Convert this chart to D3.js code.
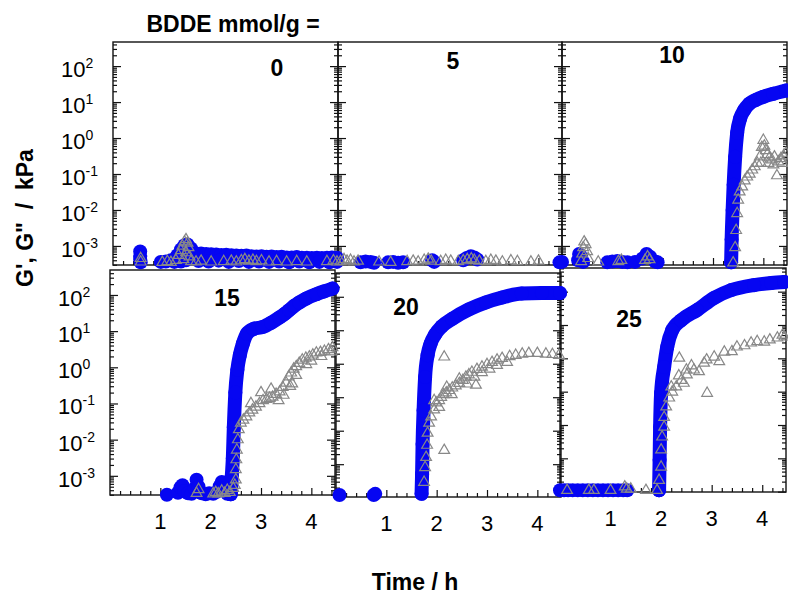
<!DOCTYPE html>
<html><head><meta charset="utf-8">
<script src="https://cdn.jsdelivr.net/npm/d3@7"></script>
<style>body{margin:0;background:#fff} svg{display:block} text{font-family:"Liberation Sans",Arial,sans-serif;fill:#000}</style>
</head><body><svg id="c" width="788" height="596"></svg>
<script>
// ---------------- DATA ----------------
const panelLabels = ["0","5","10","15","20","25"];
const xTickLabels = [1,2,3,4];
const yTickExps = [-3,-2,-1,0,1,2];

// [time h, modulus kPa]
const blueDots0 = [[0.54,7e-4],[0.54,5.2e-4],[0.54,4.2e-4],[0.55,3.5e-4],[0.95,3.6e-4],[1.05,3.7e-4],[1.15,4e-4],[1.22,3.6e-4],[1.28,5.5e-4],[1.35,8e-4],[1.42,1.05e-3],[1.48,1.1e-3],[1.55,8.5e-4],[1.6,6e-4],[1.45,4e-4],[1.35,3.7e-4],
 [1.65,6.2e-4],[1.75,6.2e-4],[1.85,6e-4],[1.95,5.9e-4],[2.05,5.8e-4],[2.15,5.6e-4],[2.25,5.7e-4],[2.35,5.5e-4],[2.45,5.4e-4],[2.55,5.3e-4],[2.65,5.4e-4],[2.75,5.2e-4],[2.85,5.1e-4],[2.95,5.2e-4],[3.05,5e-4],[3.15,5.1e-4],[3.25,4.9e-4],[3.35,5e-4],[3.45,4.8e-4],[3.55,4.8e-4],[3.65,4.9e-4],[3.75,4.7e-4],[3.85,4.7e-4],[3.95,4.6e-4],[4.05,4.7e-4],[4.15,4.6e-4],[4.25,4.7e-4],[4.35,4.8e-4],[4.45,4.7e-4],
 [1.7,3.8e-4],[1.9,3.7e-4],[2.1,3.9e-4],[2.3,3.6e-4],[2.5,3.8e-4],[2.7,3.6e-4],[2.9,3.7e-4],[3.1,3.6e-4],[3.3,3.7e-4],[3.5,3.5e-4],[3.7,3.7e-4],[3.9,3.5e-4],[4.1,3.6e-4],[4.3,3.5e-4],[4.45,3.6e-4]];
const grayTri0 = [[0.55,3.6e-4],[0.55,4.5e-4],[0.98,3.5e-4],[1.08,3.7e-4],[1.15,3.5e-4],[1.25,4e-4],[1.3,5.5e-4],[1.35,7.5e-4],[1.38,1e-3],[1.42,1.3e-3],[1.45,1.5e-3],[1.48,1.2e-3],[1.5,9e-4],[1.45,6.5e-4],[1.52,5e-4],[1.4,4.2e-4],[1.55,3.7e-4],[1.65,3.6e-4],[1.75,3.8e-4],[1.95,3.6e-4],[2.2,3.7e-4],[2.35,3.8e-4],[2.45,3.6e-4],[2.55,3.9e-4],[2.62,4.2e-4],[2.7,3.8e-4],[2.78,4e-4],[2.85,3.7e-4],[2.95,3.9e-4],[3.1,3.6e-4],[3.25,3.7e-4],[3.45,3.6e-4],[3.65,3.7e-4],[3.85,3.6e-4],[4.25,3.7e-4],[4.38,3.9e-4],[4.45,3.6e-4]];

const blueDots5 = [[0.45,3.5e-4],[0.55,3.7e-4],[0.65,3.6e-4],[0.72,3.4e-4],[1.0,3.5e-4],[1.1,3.6e-4],[1.2,3.4e-4],[1.3,3.5e-4],[1.88,4e-4],[1.92,3.6e-4],[2.5,4e-4],[2.57,4.6e-4],[2.65,5.2e-4],[2.72,4.8e-4],[2.78,4.2e-4],[4.42,3.5e-4]];
const grayTri5 = [[0.05,3.7e-4],[0.12,4.2e-4],[0.18,3.8e-4],[0.25,4e-4],[0.32,3.6e-4],[0.4,3.8e-4],[0.82,3.6e-4],[1.05,3.5e-4],[1.38,3.7e-4],[1.5,3.8e-4],[1.6,3.6e-4],[1.72,4e-4],[1.8,4.3e-4],[1.86,3.8e-4],[2.05,3.7e-4],[2.15,4e-4],[2.25,3.8e-4],[2.4,3.7e-4],[2.5,3.9e-4],[2.58,4.2e-4],[2.66,4.4e-4],[2.72,4e-4],[2.82,3.8e-4],[2.95,3.7e-4],[3.05,4e-4],[3.15,3.8e-4],[3.28,3.6e-4],[3.45,3.9e-4],[3.58,3.7e-4],[3.85,3.6e-4],[4.0,3.8e-4]];

const blueDots10 = [[0.0,3.6e-4],[0.32,4e-4],[0.34,6e-4],[0.38,5e-4],[0.42,3.6e-4],[0.9,3.5e-4],[1.0,3.7e-4],[1.1,3.8e-4],[1.2,3.6e-4],[1.3,3.5e-4],[1.45,3.6e-4],[1.6,4.5e-4],[1.68,6e-4],[1.75,5e-4],[1.85,3.7e-4],[1.9,3.5e-4]];
const blueCurve10 = [[3.36,3.5e-4],[3.37,1.5e-3],[3.39,1e-2],[3.41,5e-2],[3.44,0.3],[3.48,1.4],[3.54,3.5],[3.62,6],[3.72,9],[3.85,11.5],[4.0,14],[4.2,17],[4.45,21]];
const grayTri10 = [[0.38,3.7e-4],[0.4,6e-4],[0.42,9e-4],[0.44,1.3e-3],[0.47,1.1e-3],[0.5,7e-4],[0.52,4.5e-4],[0.72,3.6e-4],[1.12,3.7e-4],[1.18,4e-4],[1.65,4e-4],[1.7,5e-4],[1.74,4.2e-4],
 [3.40,3.4e-4],[3.44,9e-4],[3.46,2.7e-3],[3.48,8e-3],[3.5,1.9e-2],[3.53,3.2e-2],[3.58,4.4e-2],[3.63,6.5e-2],[3.68,8.3e-2],[3.73,0.1],[3.78,0.13],[3.83,0.16],[3.88,0.2],[3.93,0.3],[3.97,0.55],[4.0,0.87],[4.02,0.6],[4.05,0.45],[4.08,0.35],[4.12,0.28],[4.17,0.25],[4.22,0.3],[4.27,0.09],[4.3,0.22],[4.35,0.27],[4.4,0.32],[4.45,0.38],[3.95,0.2],[4.1,0.2],[4.2,0.18],[4.38,0.2]];

const blueDots15 = [[1.13,3e-4],[1.35,3.4e-4],[1.4,4.8e-4],[1.44,5.5e-4],[1.48,3.8e-4],[1.55,3.3e-4],[1.62,3.2e-4],[1.68,4.5e-4],[1.72,7.8e-4],[1.76,5e-4],[1.82,3.3e-4],[1.9,3.1e-4],[1.97,3.3e-4],[2.05,3.2e-4],[2.12,3.6e-4],[2.18,5.2e-4],[2.22,6.8e-4],[2.28,4.5e-4],[2.33,3.2e-4],[2.38,3.2e-4]];
const blueCurve15 = [[2.40,3.1e-4],[2.42,1e-3],[2.44,3e-3],[2.46,2.2e-2],[2.49,0.2],[2.53,0.85],[2.58,2.2],[2.64,4.5],[2.72,8.5],[2.85,11.5],[3.03,13],[3.2,17],[3.37,24],[3.47,30],[3.56,38],[3.66,50],[3.76,62],[3.9,80],[4.1,105],[4.25,125],[4.42,150]];
const grayTri15 = [[1.72,3.3e-4],[1.76,4.2e-4],[2.05,3.2e-4],[2.1,3.5e-4],[2.15,3.2e-4],[2.22,3.8e-4],[2.28,3.3e-4],[2.33,4e-4],[2.38,3.5e-4],[2.45,4.5e-4],[2.48,5.5e-4],
 [2.5,7.8e-4],[2.5,1.5e-3],[2.51,2.8e-3],[2.52,5.2e-3],[2.54,1e-2],[2.56,1.9e-2],[2.6,2.9e-2],[2.65,3.5e-2],[2.71,4.3e-2],[2.77,5.5e-2],[2.83,6.6e-2],[2.9,8e-2],[2.97,0.1],[3.04,0.12],[3.11,0.13],[3.17,0.14],[3.23,0.15],[3.3,0.18],[3.37,0.21],[3.43,0.28],[3.5,0.37],[3.55,0.55],[3.6,0.7],[3.65,0.9],[3.7,1.05],[3.76,1.3],[3.82,1.6],[3.89,1.8],[3.96,1.95],[4.03,2.2],[4.1,2.5],[4.18,2.6],[4.26,2.8],[4.34,3.1],[4.42,3.5],
 [2.8,0.1],[3.0,0.2],[3.2,0.25],[3.35,0.12],[3.45,0.17],[3.58,0.3],[3.7,0.6],[3.62,0.35],[3.9,1.2],[4.0,1.5],[4.2,2.0],[4.4,2.7]];

const blueDots20 = [[0.07,1.2e-4],[0.75,1.2e-4],[0.78,1.3e-4]];
const blueCurve20 = [[1.70,1.3e-4],[1.71,5e-4],[1.72,4e-3],[1.74,4e-2],[1.77,0.4],[1.82,1.8],[1.88,4],[1.97,7.5],[2.1,13],[2.31,22],[2.64,42],[2.98,68],[3.3,95],[3.69,125],[4.09,130],[4.45,130]];
const grayTri20 = [[1.75,2.9e-4],[1.77,8e-4],[1.79,1.6e-3],[1.81,3.7e-3],[1.82,8.5e-3],[1.85,1.7e-2],[1.89,2.6e-2],[1.95,4.2e-2],[1.99,6.8e-2],[2.05,8e-2],[2.09,0.1],[2.14,0.12],[2.19,0.135],[2.25,0.16],[2.31,0.19],[2.38,0.22],[2.45,0.26],[2.52,0.32],[2.58,0.4],[2.64,0.47],[2.7,0.56],[2.8,0.68],[2.9,0.8],[3.0,0.95],[3.1,1.1],[3.2,1.3],[3.3,1.45],[3.45,1.65],[3.57,1.8],[3.7,1.95],[3.83,2.05],[4.0,2.05],[4.17,1.95],[4.3,1.9],[4.43,1.8],
 [2.15,1.6],[2.15,2.6e-3],[2.78,0.23],
 [1.95,8e-2],[2.05,5e-2],[2.2,0.2],[2.3,0.12],[2.45,0.35],[2.6,0.25],[2.75,0.4],[2.9,0.55],[3.05,0.7],[3.2,0.9],[3.4,1.1]];

const blueDots25 = [[0.0,1.1e-4],[0.08,1.1e-4],[0.16,1.1e-4],[0.25,1.1e-4],[0.35,1.1e-4],[0.45,1.1e-4],[0.55,1.1e-4],[0.65,1.1e-4],[0.75,1.1e-4],[0.85,1.1e-4],[0.95,1.1e-4],[1.05,1.1e-4],[1.15,1.1e-4],[1.25,1.1e-4],[1.33,1.1e-4]];
const blueCurve25 = [[1.96,1.1e-4],[1.97,9e-4],[1.98,8.7e-3],[2.0,9e-2],[2.06,0.55],[2.12,2.2],[2.22,7],[2.4,14],[2.71,28],[3.05,65],[3.39,112],[3.84,158],[4.18,182],[4.44,195]];
const grayTri25 = [[0.14,1.1e-4],[0.57,1.1e-4],[0.67,1.1e-4],[1.0,1.1e-4],[1.28,1.4e-4],[1.32,1.2e-4],[1.4,1.2e-4],[1.7,1.1e-4],[1.92,1.1e-4],
 [1.96,2.2e-4],[2.0,5.5e-4],[2.0,1.8e-3],[2.02,4.4e-3],[2.06,8.7e-3],[2.06,1.7e-2],[2.1,3.5e-2],[2.16,6.5e-2],[2.22,9.8e-2],[2.3,0.14],[2.4,0.22],[2.51,0.32],[2.65,0.45],[2.85,0.72],[3.05,1.1],[3.25,1.55],[3.5,2.2],[3.78,2.9],[4.04,3.1],[4.3,4.1],[4.44,4.4],
 [2.36,1.02],[2.91,0.09],[2.5,0.45],
 [2.2,0.14],[2.35,0.3],[2.45,0.18],[2.6,0.6],[2.75,0.4],[2.9,0.9],[3.15,0.8],[3.4,1.6],[3.65,2.4],[3.9,3.2],[4.15,3.6],[4.4,5]];

// ---------------- LAYOUT ----------------
const panels = [
  {box:[113,42,225,223], yExp:[-3.53,2.67], lab:[277,76],  dots:blueDots0,  curve:[],          tri:grayTri0},
  {box:[338,42,224,223], yExp:[-3.53,2.67], lab:[453,69],  dots:blueDots5,  curve:[],          tri:grayTri5},
  {box:[562,42,225,223], yExp:[-3.53,2.67], lab:[672,63],  dots:blueDots10, curve:blueCurve10, tri:grayTri10},
  {box:[110,270,225,225],yExp:[-3.53,2.69], lab:[227,306], dots:blueDots15, curve:blueCurve15, tri:grayTri15},
  {box:[336,273,225,224],yExp:[-3.98,2.71], lab:[406,315], dots:blueDots20, curve:blueCurve20, tri:grayTri20},
  {box:[560,268,226,224],yExp:[-4.01,2.71], lab:[629,327], dots:blueDots25, curve:blueCurve25, tri:grayTri25}
];
const BLUE = "#0606f2", GRAY = "#888888";
const svg = d3.select("#c");
const gFrames = svg.append("g"), gData = svg.append("g"), gText = svg.append("g");

panels.forEach((p, i) => {
  const [L, T, W, H] = p.box;
  p.x = d3.scaleLinear().domain([0, 4.47]).range([L, L + W]);
  p.y = d3.scaleLog().domain([10 ** p.yExp[0], 10 ** p.yExp[1]]).range([T + H, T]);
  const g = gFrames.append("g");
  const xMinor = d3.range(0.2, 4.46, 0.2).filter(v => Math.abs(v - Math.round(v)) > 0.01);
  const yMajor = yTickExps.map(e => 10 ** e);
  const yMinor = [];
  for (let e = -5; e <= 2; e++) for (let k = 2; k <= 9; k++) { const v = k * 10 ** e; if (v > p.y.domain()[0] && v < p.y.domain()[1]) yMinor.push(v); }
  const yMaj = yMajor.concat([1e-4]).filter(v => v > p.y.domain()[0] * 1.01);
  const add = (axis, tr) => { const a = g.append("g").attr("transform", tr).call(axis); a.select(".domain").remove(); a.selectAll("line").attr("stroke", "#111").attr("stroke-width", 1.2); };
  add(d3.axisBottom(p.x).tickValues(xTickLabels).tickSize(-7).tickFormat(""), `translate(0,${T + H})`);
  add(d3.axisBottom(p.x).tickValues(xMinor).tickSize(-4).tickFormat(""), `translate(0,${T + H})`);
  add(d3.axisLeft(p.y).tickValues(yMaj).tickSize(-8).tickFormat(""), `translate(${L},0)`);
  add(d3.axisLeft(p.y).tickValues(yMinor).tickSize(-4).tickFormat(""), `translate(${L},0)`);
  add(d3.axisRight(p.y).tickValues(yMaj).tickSize(-8).tickFormat(""), `translate(${L + W},0)`);
  add(d3.axisRight(p.y).tickValues(yMinor).tickSize(-4).tickFormat(""), `translate(${L + W},0)`);
  g.append("rect").attr("x", L).attr("y", T).attr("width", W).attr("height", H)
    .attr("fill", "none").attr("stroke", "#111").attr("stroke-width", 1.4);

  if (i === 0 || i === 3) {
    const lx = i === 0 ? 61 : 58;
    yTickExps.forEach(e => {
      const t = gText.append("text").attr("x", lx).attr("y", p.y(10 ** e) + 11).attr("font-size", 22);
      t.append("tspan").text("10");
      t.append("tspan").attr("font-size", 14).attr("dy", -9).text(String(e));
    });
  }
  if (i >= 3) {
    xTickLabels.forEach(v => {
      gText.append("text").attr("x", p.x(v)).attr("y", T + H + 34).attr("text-anchor", "middle").attr("font-size", 22).text(v);
    });
  }
  gText.append("text").attr("x", p.lab[0]).attr("y", p.lab[1]).attr("text-anchor", "middle")
    .attr("font-size", 23).attr("font-weight", "bold").text(panelLabels[i]);
});

panels.forEach(p => {
  const g = gData.append("g");
  if (p.curve.length) {
    g.append("path").datum(p.curve)
      .attr("d", d3.line().x(d => p.x(d[0])).y(d => p.y(d[1])).curve(d3.curveMonotoneX))
      .attr("fill", "none").attr("stroke", BLUE).attr("stroke-width", 14)
      .attr("stroke-linecap", "round").attr("stroke-linejoin", "round");
  }
  g.selectAll("circle").data(p.dots.concat(p.curve)).join("circle")
    .attr("cx", d => p.x(d[0])).attr("cy", d => p.y(d[1])).attr("r", 7).attr("fill", BLUE);
  g.selectAll("path.tri").data(p.tri).join("path").attr("class", "tri")
    .attr("transform", d => `translate(${p.x(d[0])},${p.y(d[1])})`)
    .attr("d", d3.symbol(d3.symbolTriangle, 50))
    .attr("fill", "none").attr("stroke", GRAY).attr("stroke-width", 1.2);
});

gText.append("text").attr("x", 233).attr("y", 32).attr("text-anchor", "middle")
  .attr("font-size", 23).attr("font-weight", "bold").text("BDDE mmol/g =");
gText.append("text").attr("x", 415).attr("y", 590).attr("text-anchor", "middle")
  .attr("font-size", 23).attr("font-weight", "bold").text("Time / h");
gText.append("text").attr("transform", "translate(33,218) rotate(-90)").attr("text-anchor", "middle")
  .attr("font-size", 23).attr("font-weight", "bold").style("white-space", "pre").text("G', G\"  /  kPa");
</script></body></html>
